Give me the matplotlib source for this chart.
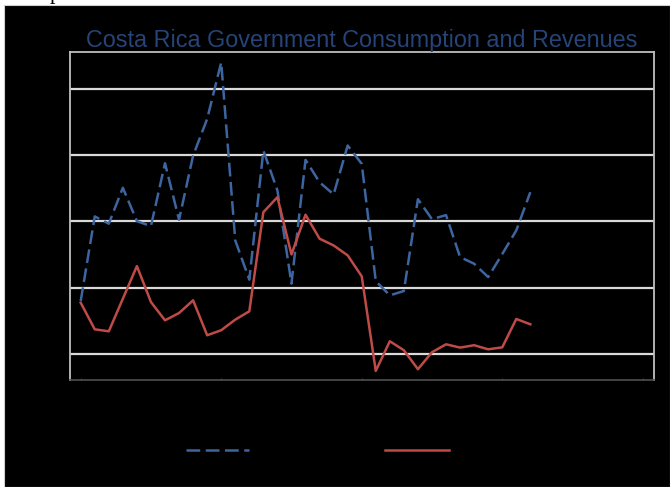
import matplotlib
matplotlib.use("Agg")
import matplotlib.pyplot as plt
from matplotlib.patches import Rectangle
import numpy as np

# Annual observations, 33 periods
periods = np.arange(33)
consumption = [4.0, 10.38, 9.83, 12.54, 10.02, 9.65, 14.39, 10.13, 14.97, 17.74,
               22.0, 8.57, 5.61, 15.35, 12.34, 5.31, 14.65, 12.96, 12.04, 15.73,
               14.35, 5.50, 4.42, 4.75, 11.68, 10.17, 10.48, 7.31, 6.81, 5.80,
               7.54, 9.32, 12.21]
revenues = [3.87, 1.86, 1.71, 4.17, 6.63, 3.92, 2.54, 3.09, 4.05, 1.41,
            1.79, 2.59, 3.22, 10.70, 11.83, 7.51, 10.51, 8.70, 8.19, 7.44,
            5.86, -1.28, 0.96, 0.28, -1.15, 0.13, 0.73, 0.48, 0.66, 0.35,
            0.50, 2.64, 2.24]
series_labels = ["Consumption", "Revenues"]
title = "Costa Rica Government Consumption and Revenues"
y_grid = [0, 5, 10, 15, 20]
x_ticks = [0, 10, 20, 30, 40]

W, H = 670, 487
fig = plt.figure(figsize=(W / 100, H / 100), dpi=100, facecolor="white")

# dark backdrop of the chart area
fig.patches.append(Rectangle((4 / W, 0), (W - 4) / W, (H - 5) / H,
                             transform=fig.transFigure, facecolor="black",
                             edgecolor="#D0D0D0", linewidth=0.8, zorder=-5))

# stray glyph from the caption above
fig.text(50 / W, (H + 0.8) / H, "p", family="Liberation Serif", fontsize=16,
         color="black", va="baseline", ha="left")

ax = fig.add_axes([70.3 / W, (H - 380.2) / H, (653.7 - 70.3) / W, (380.2 - 51.7) / H])
ax.set_zorder(2)
ax.set_facecolor("black")

ax.plot(periods, consumption, color="#3D65A0", lw=1.8, dashes=[5.5, 2.2],
        label=series_labels[0], zorder=3)
ax.plot(periods, revenues, color="#BE4B48", lw=1.8, label=series_labels[1],
        zorder=3)

ax.set_xlim(-0.74, 40.78)
ax.set_ylim(-1.98, 22.81)
ax.set_yticks(y_grid)
ax.set_xticks(x_ticks)
ax.yaxis.grid(True, color="#D9D9D9", lw=1.6, zorder=1)
ax.set_axisbelow(True)
ax.tick_params(axis="y", length=0, labelleft=False)
ax.tick_params(axis="x", length=1.5, color="#3A3A3A", direction="in",
               labelbottom=False)

for side in ("left", "right", "top"):
    ax.spines[side].set_color("#BFBFBF")
    ax.spines[side].set_linewidth(1.3)
ax.spines["bottom"].set_color("#505050")
ax.spines["bottom"].set_linewidth(1.2)

fig.text(362 / W, (H - 40) / H, title, ha="center", va="center",
         family="Liberation Sans", fontsize=16.8, color="#264478")

leg = fig.legend(loc="center left", bbox_to_anchor=(173 / W, (H - 451) / H),
                 ncol=2, frameon=False, fontsize=10, labelcolor="black",
                 handlelength=4.6, handletextpad=0.5, columnspacing=2.65)

fig.savefig("out.png", dpi=100, facecolor=fig.get_facecolor())
